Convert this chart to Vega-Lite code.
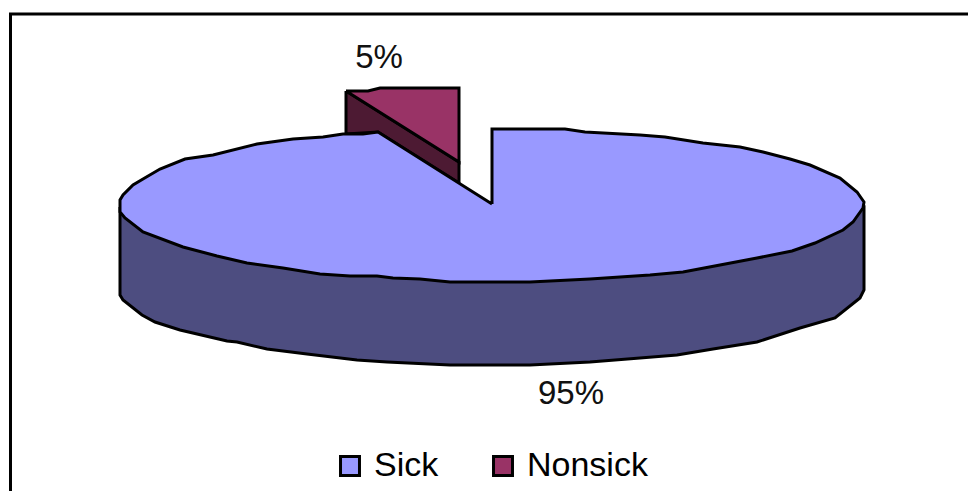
{"$schema":"https://vega.github.io/schema/vega-lite/v6.json","width":968,"height":491,"padding":0,"autosize":"none","background":"white","view":{"stroke":null},"config":{"font":"Liberation Sans"},
"datasets":{
"frame":[{"x":10.5,"y":491,"i":0},{"x":10.5,"y":14,"i":1},{"x":968,"y":14,"i":2}],
"side":[{"i":0,"x":120,"y":207},{"i":1,"x":120,"y":295},{"i":2,"x":123,"y":300},{"i":3,"x":142,"y":315},{"i":4,"x":155,"y":322},{"i":5,"x":180,"y":330},{"i":6,"x":227,"y":341},{"i":7,"x":237,"y":342},{"i":8,"x":267,"y":349},{"i":9,"x":307,"y":354},{"i":10,"x":357,"y":360},{"i":11,"x":387,"y":362},{"i":12,"x":450,"y":365},{"i":13,"x":530,"y":365},{"i":14,"x":590,"y":362},{"i":15,"x":640,"y":358},{"i":16,"x":677,"y":355},{"i":17,"x":713,"y":349},{"i":18,"x":757,"y":342},{"i":19,"x":800,"y":328},{"i":20,"x":835,"y":318},{"i":21,"x":860,"y":298},{"i":22,"x":864,"y":290},{"i":23,"x":864,"y":207},{"i":24,"x":500,"y":240},{"i":25,"x":120,"y":207}],
"back":[{"i":0,"x":346,"y":91},{"i":1,"x":346,"y":134},{"i":2,"x":378,"y":132},{"i":3,"x":459,"y":183},{"i":4,"x":459,"y":162},{"i":5,"x":346,"y":91}],
"tops":[
{"slice":"Sick","i":0,"x":492,"y":204},{"slice":"Sick","i":1,"x":492,"y":129},{"slice":"Sick","i":2,"x":565,"y":129},{"slice":"Sick","i":3,"x":585,"y":132},{"slice":"Sick","i":4,"x":640,"y":135},{"slice":"Sick","i":5,"x":665,"y":137},{"slice":"Sick","i":6,"x":703,"y":143},{"slice":"Sick","i":7,"x":740,"y":147},{"slice":"Sick","i":8,"x":763,"y":152},{"slice":"Sick","i":9,"x":790,"y":159},{"slice":"Sick","i":10,"x":810,"y":165},{"slice":"Sick","i":11,"x":840,"y":178},{"slice":"Sick","i":12,"x":857,"y":192},{"slice":"Sick","i":13,"x":864,"y":202},{"slice":"Sick","i":14,"x":863,"y":208},{"slice":"Sick","i":15,"x":853,"y":222},{"slice":"Sick","i":16,"x":843,"y":230},{"slice":"Sick","i":17,"x":815,"y":243},{"slice":"Sick","i":18,"x":792,"y":251},{"slice":"Sick","i":19,"x":757,"y":258},{"slice":"Sick","i":20,"x":720,"y":265},{"slice":"Sick","i":21,"x":683,"y":272},{"slice":"Sick","i":22,"x":650,"y":275},{"slice":"Sick","i":23,"x":590,"y":279},{"slice":"Sick","i":24,"x":530,"y":282},{"slice":"Sick","i":25,"x":450,"y":282},{"slice":"Sick","i":26,"x":420,"y":279},{"slice":"Sick","i":27,"x":393,"y":278},{"slice":"Sick","i":28,"x":377,"y":276},{"slice":"Sick","i":29,"x":350,"y":276},{"slice":"Sick","i":30,"x":320,"y":274},{"slice":"Sick","i":31,"x":283,"y":268},{"slice":"Sick","i":32,"x":247,"y":263},{"slice":"Sick","i":33,"x":217,"y":256},{"slice":"Sick","i":34,"x":183,"y":247},{"slice":"Sick","i":35,"x":143,"y":232},{"slice":"Sick","i":36,"x":125,"y":218},{"slice":"Sick","i":37,"x":120,"y":212},{"slice":"Sick","i":38,"x":120,"y":200},{"slice":"Sick","i":39,"x":123,"y":195},{"slice":"Sick","i":40,"x":133,"y":185},{"slice":"Sick","i":41,"x":143,"y":179},{"slice":"Sick","i":42,"x":160,"y":169},{"slice":"Sick","i":43,"x":185,"y":159},{"slice":"Sick","i":44,"x":213,"y":155},{"slice":"Sick","i":45,"x":257,"y":144},{"slice":"Sick","i":46,"x":293,"y":139},{"slice":"Sick","i":47,"x":323,"y":137},{"slice":"Sick","i":48,"x":343,"y":134},{"slice":"Sick","i":49,"x":363,"y":134},{"slice":"Sick","i":50,"x":378,"y":132},{"slice":"Sick","i":51,"x":492,"y":204},
{"slice":"Nonsick","i":0,"x":346,"y":91},{"slice":"Nonsick","i":1,"x":368,"y":91},{"slice":"Nonsick","i":2,"x":380,"y":88},{"slice":"Nonsick","i":3,"x":459,"y":88},{"slice":"Nonsick","i":4,"x":459,"y":162},{"slice":"Nonsick","i":5,"x":346,"y":91}],
"labels":[{"label":"5%","x":379,"y":58},{"label":"95%","x":571,"y":394}]
},
"layer":[
{"data":{"name":"frame"},"mark":{"type":"line","stroke":"black","strokeWidth":3,"strokeJoin":"miter"},"encoding":{"x":{"field":"x","type":"quantitative","scale":{"domain":[0,968],"nice":false,"zero":false},"axis":null},"y":{"field":"y","type":"quantitative","scale":{"domain":[491,0],"nice":false,"zero":false},"axis":null},"order":{"field":"i"}}},
{"data":{"name":"side"},"mark":{"type":"line","fill":"#4d4d80","stroke":"black","strokeWidth":3},"encoding":{"x":{"field":"x","type":"quantitative"},"y":{"field":"y","type":"quantitative"},"order":{"field":"i"}}},
{"data":{"name":"back"},"mark":{"type":"line","fill":"#4d1a33","stroke":"black","strokeWidth":3},"encoding":{"x":{"field":"x","type":"quantitative"},"y":{"field":"y","type":"quantitative"},"order":{"field":"i"}}},
{"data":{"name":"tops"},"mark":{"type":"line","stroke":"black","strokeWidth":3},"encoding":{"x":{"field":"x","type":"quantitative"},"y":{"field":"y","type":"quantitative"},"order":{"field":"i"},"detail":{"field":"slice"},"fill":{"field":"slice","type":"nominal","scale":{"domain":["Sick","Nonsick"],"range":["#9999ff","#993366"]},"legend":{"title":null,"orient":"none","legendX":333,"legendY":449,"direction":"horizontal","symbolType":"square","symbolSize":360,"symbolStrokeColor":"black","symbolStrokeWidth":3,"symbolOpacity":1,"labelFontSize":34,"labelFont":"Liberation Sans","labelColor":"black","labelOffset":7,"columnPadding":47,"labelLimit":200,"gridAlign":"none"}}}},
{"data":{"name":"labels"},"mark":{"type":"text","fontSize":33,"font":"Liberation Sans","color":"#111111","baseline":"middle","align":"center"},"encoding":{"x":{"field":"x","type":"quantitative"},"y":{"field":"y","type":"quantitative"},"text":{"field":"label"}}}
]}
